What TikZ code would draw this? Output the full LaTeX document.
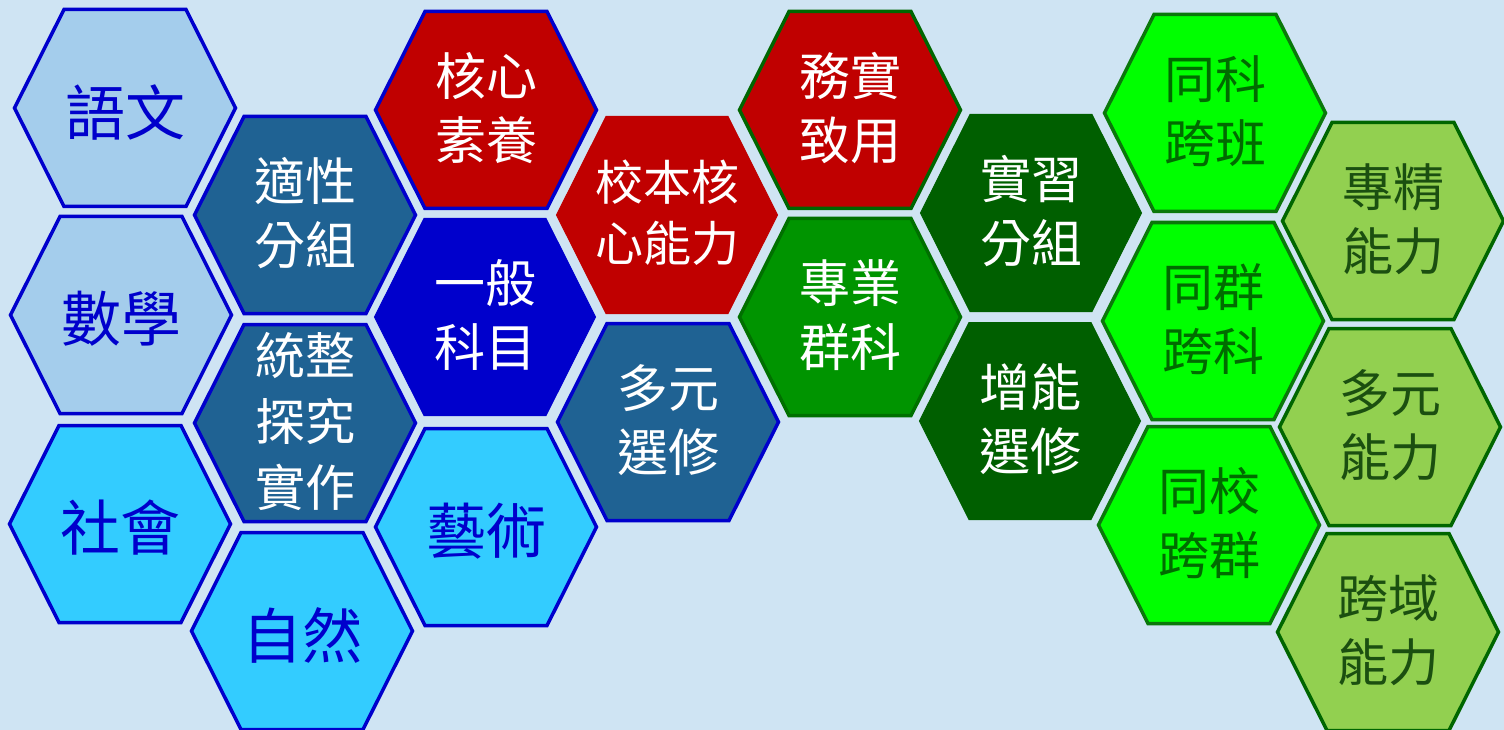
\documentclass[tikz,border=0pt]{standalone}
\usepackage{fontspec}
\newfontfamily\cjk{Noto Sans CJK TC}
\definecolor{bgc}{HTML}{CFE4F3}
\definecolor{lblue}{HTML}{A4CDEC}
\definecolor{cyanf}{HTML}{33CCFF}
\definecolor{bblue}{HTML}{0000CC}
\definecolor{steel}{HTML}{1F6293}
\definecolor{redf}{HTML}{C00000}
\definecolor{dgreen}{HTML}{006600}
\definecolor{mgreen}{HTML}{009400}
\definecolor{mgreenb}{HTML}{007000}
\definecolor{ddgreen}{HTML}{005F00}
\definecolor{lime}{HTML}{00FF00}
\definecolor{limeb}{HTML}{0B780B}
\definecolor{limet}{HTML}{006B00}
\definecolor{olive}{HTML}{92D050}
\definecolor{olivet}{HTML}{1B4F10}
\tikzset{
  lang/.style={fill=lblue, draw=bblue, line width=3.5pt},
  sci/.style={fill=cyanf, draw=bblue, line width=3.5pt},
  grp/.style={fill=steel, draw=bblue, line width=3.5pt},
  core/.style={fill=redf, draw=bblue, line width=3.5pt},
  school/.style={fill=redf, draw=redf, line width=1pt},
  gen/.style={fill=bblue, draw=bblue, line width=1pt},
  prac/.style={fill=redf, draw=dgreen, line width=3.5pt},
  prof/.style={fill=mgreen, draw=mgreenb, line width=3.5pt},
  intern/.style={fill=ddgreen, draw=ddgreen, line width=1pt},
  cross/.style={fill=lime, draw=limeb, line width=3.5pt},
  abil/.style={fill=olive, draw=dgreen, line width=3.5pt},
  txt/.style={align=center, inner sep=0pt},
  big/.style={txt, font=\cjk\fontsize{60}{72}\selectfont, text=bblue, yshift=-6pt},
  wt/.style={txt, font=\cjk\fontsize{51}{64}\selectfont, text=white},
  wts/.style={txt, font=\cjk\fontsize{48}{61}\selectfont, text=white},
  wtt/.style={txt, font=\cjk\fontsize{50}{66}\selectfont, text=white},
  gt/.style={txt, font=\cjk\fontsize{51}{64}\selectfont, text=limet},
  ot/.style={txt, font=\cjk\fontsize{51}{64}\selectfont, text=olivet},
}
\newcommand\hx[6]{%
  \path[#4] (#2-110.5,#3) -- (#2-61,#3-98.5) -- (#2+61,#3-98.5) -- (#2+110.5,#3)
    -- (#2+61,#3+98.5) -- (#2-61,#3+98.5) -- cycle;
  \node[#5] (#1) at (#2,#3-2) {#6};}
\begin{document}
\begin{tikzpicture}[x=1pt,y=-1pt]
\fill[bgc] (0,0) rectangle (1504,730);
\useasboundingbox (0,0) rectangle (1504,730);
% column 1
\hx{yuwen}{125}{108}{lang}{big}{語文}
\hx{shuxue}{121}{315}{lang}{big}{數學}
\hx{shehui}{120}{524}{sci}{big}{社會}
% column 2
\hx{shixing}{305}{215}{grp}{wt}{適性\\分組}
\hx{tongzheng}{305}{423}{grp}{wtt}{統整\\探究\\實作}
\hx{ziran}{302}{631}{sci}{big}{自然}
% column 3
\hx{hexin}{486}{110}{core}{wt}{核心\\素養}
\hx{yiban}{485}{317}{gen}{wt}{一般\\科目}
\hx{yishu}{486}{527}{sci}{big}{藝術}
% column 4
\hx{xiaoben}{667}{215}{school}{wts}{校本核\\心能力}
\hx{duoyuan}{668}{422}{grp}{wt}{多元\\選修}
% column 5
\hx{wushi}{850}{110}{prac}{wt}{務實\\致用}
\hx{zhuanye}{850}{317}{prof}{wt}{專業\\群科}
% column 6
\hx{shixi}{1031}{213}{intern}{wt}{實習\\分組}
\hx{zengneng}{1030}{421}{intern}{wt}{增能\\選修}
% column 7
\hx{tongke}{1215}{113}{cross}{gt}{同科\\跨班}
\hx{tongqun}{1213}{321}{cross}{gt}{同群\\跨科}
\hx{tongxiao}{1209}{525}{cross}{gt}{同校\\跨群}
% column 8
\hx{zhuanjing}{1393}{221}{abil}{ot}{專精\\能力}
\hx{duoyuanneng}{1390}{427}{abil}{ot}{多元\\能力}
\hx{kuayu}{1388}{632}{abil}{ot}{跨域\\能力}
\end{tikzpicture}
\end{document}
